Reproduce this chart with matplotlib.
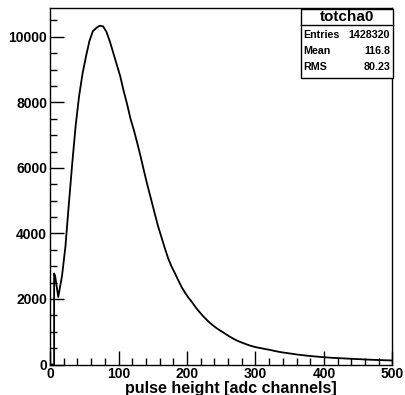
import numpy as np
import matplotlib
matplotlib.use("Agg")
import matplotlib.pyplot as plt
from matplotlib.ticker import MultipleLocator

# спектр totcha0: канал -> число событий
channels = [0, 6, 6, 7.5, 12] + list(np.arange(17.5, 500, 5)) + [500]
counts = [
    0, 0, 2780, 2700, 2060,
    2700, 3600, 4900, 6150, 7300, 8200, 8880,
    9400, 9870, 10170, 10270, 10340, 10320, 10150, 9850, 9500, 9150,
    8800, 8350, 7950, 7500, 7150, 6750, 6330, 5880, 5450, 5050,
    4640, 4240, 3900, 3560, 3240, 2990, 2780, 2560, 2350, 2180,
    2030, 1900, 1750, 1620, 1500, 1390, 1290, 1200, 1120, 1050,
    985, 915, 850, 790, 735, 690, 650, 610, 575, 545,
    520, 500, 480, 460, 440, 415, 395, 375, 360, 345,
    330, 315, 300, 288, 276, 264, 254, 245, 236, 226,
    218, 210, 204, 198, 193, 188, 182, 177, 172, 167,
    162, 156, 151, 146, 142, 138, 135, 131, 128, 124,
    122,
]

stats_title = "totcha0"
stats_rows = [("Entries", "1428320"), ("Mean", "116.8"), ("RMS", "80.23")]

plt.rcParams['font.family'] = ['Liberation Sans', 'DejaVu Sans']
plt.rcParams['font.weight'] = 'bold'

fig = plt.figure(figsize=(4.05, 3.95), dpi=100)
ax = fig.add_axes([0.1235, 0.0772, 0.8455, 0.9025])

ax.plot(channels, counts, color='black', lw=1.3)

ax.set_xlim(0, 500)
ax.set_ylim(0, 10880)
ax.xaxis.set_major_locator(MultipleLocator(100))
ax.xaxis.set_minor_locator(MultipleLocator(20))
ax.yaxis.set_major_locator(MultipleLocator(2000))
ax.yaxis.set_minor_locator(MultipleLocator(500))
ax.tick_params(which='both', direction='in', top=False, right=False,
               labelsize=10, width=1)
ax.tick_params(which='major', length=10)
ax.tick_params(which='minor', length=5)
ax.tick_params(axis='x', pad=2)
ax.tick_params(axis='y', pad=2)
for lbl in ax.get_xticklabels() + ax.get_yticklabels():
    lbl.set_fontweight('bold')
for s in ax.spines.values():
    s.set_linewidth(1)

ax.set_xlabel('pulse height [adc channels]', fontsize=11.5, fontweight='bold')
ax.xaxis.set_label_coords((231 - 50) / 342.5, -(388 - 364.5) / 356.5)
ax.xaxis.label.set_va('center')

# окно статистики как в ROOT
bx0, bx1 = 301 / 405, 392.5 / 405
by1, by0 = 1 - 8.5 / 395, 1 - 78 / 395
fig.patches.append(plt.Rectangle((bx0, by0), bx1 - bx0, by1 - by0,
                                 transform=fig.transFigure, fc='white',
                                 ec='black', lw=1, zorder=5))
sep = 1 - 25 / 395
fig.add_artist(plt.Line2D([bx0, bx1], [sep, sep], transform=fig.transFigure,
                          color='black', lw=1, zorder=6))
fig.text((bx0 + bx1) / 2, 1 - 17 / 395, stats_title, ha='center', va='center',
         fontsize=11, fontweight='bold', zorder=7)
row_y = [34.5, 51, 67.5]
for (name, val), yy in zip(stats_rows, row_y):
    fig.text(303 / 405, 1 - yy / 395, name, ha='left', va='center',
             fontsize=7.7, fontweight='bold', zorder=7)
    fig.text(390 / 405, 1 - yy / 395, val, ha='right', va='center',
             fontsize=7.7, fontweight='bold', zorder=7)

fig.savefig('out.png', dpi=100)
